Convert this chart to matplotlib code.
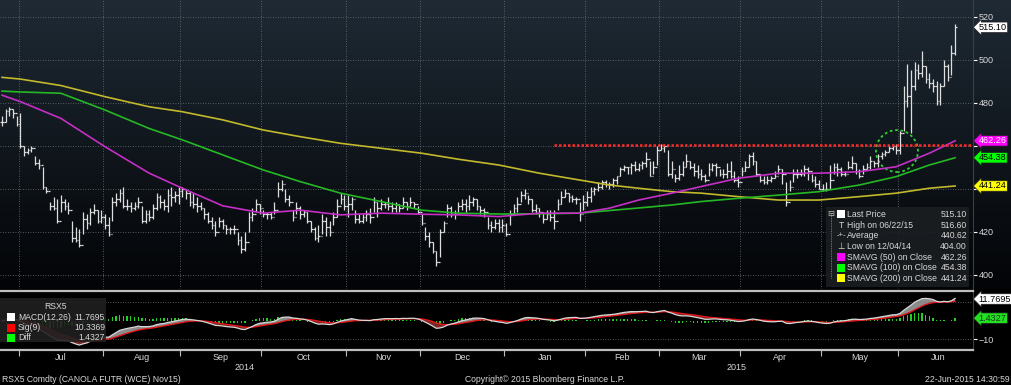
import numpy as np
import pandas as pd
import matplotlib
matplotlib.use('Agg')
import matplotlib.pyplot as plt
import matplotlib.transforms as mtrans
from matplotlib.patches import Ellipse, Rectangle
from matplotlib.lines import Line2D

# daily bars, RSX5 canola, 24-Jun-2014 .. 22-Jun-2015
highs = [474, 477, 478, 477, 474, 475, 460, 459, 460, 455, 454, 450, 441, 434, 436, 435, 437, 435, 434, 425,
         422, 421, 429, 428, 431, 433, 430, 430, 428, 427, 436, 438, 440, 441, 435, 434, 434, 436, 432, 430,
         430, 433, 438, 437, 435, 440, 441, 439, 441, 441, 440, 439, 438, 436, 434, 431, 429, 427, 425, 427,
         426, 423, 422, 423, 420, 418, 420, 429, 431, 435, 433, 430, 429, 429, 434, 443, 444, 440, 437, 430,
         434, 432, 430, 429, 425, 422, 423, 428, 427, 425, 429, 435, 438, 437, 437, 436, 430, 428, 428, 430,
         431, 436, 434, 435, 434, 436, 434, 434, 433, 436, 434, 436, 434, 432, 428, 422, 420, 415, 411, 421,
         425, 433, 432, 430, 434, 435, 435, 437, 436, 435, 432, 431, 427, 425, 426, 426, 426, 424, 430, 433,
         436, 439, 440, 437, 435, 433, 431, 429, 430, 430, 430, 435, 439, 440, 438, 437, 436, 434, 437, 439,
         441, 441, 443, 444, 444, 443, 445, 446, 450, 451, 450, 452, 453, 452, 453, 457, 453, 453, 460, 461,
         461, 458, 453, 447, 451, 453, 456, 453, 452, 451, 449, 447, 452, 452, 452, 449, 449, 452, 453, 448,
         446, 450, 453, 456, 457, 453, 447, 446, 446, 446, 448, 451, 449, 443, 444, 449, 449, 449, 451, 450,
         447, 446, 444, 442, 443, 451, 452, 452, 450, 448, 453, 455, 452, 449, 451, 452, 455, 453, 456, 457,
         458, 460, 461, 461, 467, 488, 498, 495, 499, 498, 504, 497, 494, 491, 490, 489, 500, 498, 507, 516.6]
lows = [469, 471, 474, 473, 469, 459, 455, 456, 457, 451, 449, 440, 438, 430, 430, 424, 429, 430, 428, 415,
        415, 413, 419, 421, 423, 428, 424, 424, 421, 418, 425, 432, 434, 431, 430, 429, 430, 431, 424, 424,
        425, 426, 430, 431, 430, 429, 432, 434, 433, 436, 435, 432, 431, 429, 430, 426, 424, 421, 418, 422,
        421, 419, 419, 419, 414, 410, 411, 420, 425, 429, 428, 427, 426, 426, 428, 436, 439, 434, 432, 425,
        428, 426, 427, 424, 420, 416, 415, 419, 418, 418, 423, 427, 433, 430, 427, 430, 424, 424, 424, 425,
        424, 429, 427, 430, 431, 430, 429, 429, 429, 431, 430, 432, 431, 428, 423, 416, 413, 410, 404, 408,
        420, 427, 427, 426, 429, 430, 429, 430, 432, 430, 428, 427, 421, 420, 421, 420, 420, 418, 423, 428,
        429, 434, 435, 433, 429, 428, 427, 424, 426, 425, 421, 430, 433, 436, 434, 434, 433, 425, 430, 432,
        434, 437, 439, 440, 441, 440, 441, 442, 446, 448, 447, 447, 448, 448, 449, 450, 446, 447, 451, 458,
        457, 446, 445, 443, 444, 446, 450, 449, 446, 445, 444, 443, 446, 448, 446, 446, 445, 445, 445, 443,
        441, 446, 448, 450, 451, 446, 443, 442, 442, 443, 445, 447, 442, 432, 439, 443, 445, 446, 446, 444,
        443, 441, 440, 439, 439, 440, 447, 446, 446, 446, 449, 449, 447, 445, 447, 449, 449, 450, 450, 454,
        455, 457, 458, 456, 456, 467, 478, 466, 486, 491, 492, 489, 487, 485, 479, 479, 488, 490, 493, 502]
closes = [471, 476, 477, 475, 470, 460, 457, 458, 459, 452, 451, 441, 439, 432, 431, 425, 434, 432, 430, 417,
          416, 414, 426, 424, 429, 430, 425, 427, 423, 419, 434, 435, 438, 432, 432, 431, 432, 434, 425, 428,
          427, 431, 436, 434, 432, 437, 436, 437, 439, 440, 438, 434, 433, 432, 431, 428, 425, 423, 420, 425,
          423, 421, 421, 421, 416, 412, 415, 427, 428, 433, 431, 428, 428, 427, 430, 440, 442, 435, 434, 427,
          431, 428, 429, 425, 421, 417, 418, 425, 422, 420, 427, 432, 435, 432, 433, 435, 426, 425, 427, 428,
          427, 434, 431, 433, 433, 432, 431, 433, 431, 434, 432, 434, 433, 429, 424, 418, 415, 411, 406, 420,
          424, 431, 428, 428, 432, 433, 432, 434, 435, 432, 430, 429, 423, 422, 424, 422, 423, 419, 428, 431,
          433, 437, 438, 435, 430, 431, 429, 426, 428, 427, 425, 433, 436, 438, 436, 435, 435, 428, 434, 436,
          439, 440, 441, 443, 442, 442, 444, 446, 449, 450, 450, 451, 449, 451, 452, 454, 446, 450, 458, 459,
          460, 447, 449, 445, 447, 450, 453, 450, 448, 447, 446, 444, 449, 451, 450, 447, 447, 448, 446, 444,
          443, 448, 450, 455, 453, 447, 444, 443, 444, 445, 446, 449, 447, 434, 441, 447, 447, 447, 449, 448,
          444, 442, 440, 440, 440, 444, 450, 449, 447, 447, 450, 452, 448, 446, 449, 450, 453, 452, 455, 456,
          457, 459, 460, 458, 466, 481, 483, 488, 495, 494, 497, 491, 489, 488, 481, 488, 497, 492, 503, 515.1]
dates = pd.bdate_range(end='2015-06-22', periods=len(closes))

# moving averages at these bar numbers
ma_days = [0, 5, 16, 28, 40, 49, 60, 71, 81, 92, 103, 114, 124, 135, 146, 157, 165, 173, 182, 190,
           200, 211, 222, 233, 243, 252, 259]
sma50 = [483.5, 480.5, 472.7, 459.5, 447.2, 440.2, 432.0, 428.6, 430.0, 427.8, 428.6, 428.1, 427.8, 427.0,
         428.6, 428.6, 430.9, 434.7, 437.9, 441.0, 444.8, 447.2, 447.2, 447.9, 450.2, 456.5, 462.26]
sma100 = [485.4, 485.0, 484.4, 476.6, 468.0, 462.7, 455.7, 448.7, 443.3, 437.9, 434.0, 430.0, 428.6, 428.2,
          428.3, 428.6, 429.8, 431.0, 432.4, 434.0, 435.5, 437.0, 438.6, 441.7, 445.6, 451.0, 454.38]
sma200 = [491.8, 491.0, 488.0, 482.8, 478.1, 475.8, 472.0, 467.3, 464.2, 461.1, 458.8, 456.5, 453.7, 451.0,
          447.2, 444.0, 441.7, 440.2, 438.6, 437.9, 436.3, 434.7, 434.7, 436.3, 437.9, 440.2, 441.24]

resist_level = 460.3
resist_from = 150
circle_day, circle_price = 243.2, 457.5

legend_rows = ['Last Price', 'High on 06/22/15', 'Average', 'Low on 12/04/14',
               'SMAVG (50) on Close', 'SMAVG (100) on Close', 'SMAVG (200) on Close']
legend_vals = ['515.10', '516.60', '440.62', '404.00', '462.26', '454.38', '441.24']
macd_rows = ['MACD(12,26)', 'Sig(9)', 'Diff']
macd_vals = ['11.7695', '10.3369', '1.4327']
price_ticks = [400, 420, 440, 460, 480, 500, 520]
price_tick_labels = ['400', '420', '', '', '480', '500', '520']  # 440/460 sit under the tags

W, H = 1012, 385
plt.rcParams['font.family'] = ['Liberation Sans', 'DejaVu Sans']
fig = plt.figure(figsize=(W / 100, H / 100), dpi=100, facecolor='black')


def fx(x):
    return x / W


def fy(y):
    return 1 - y / H


txt = '#d8d8d8'
gridc = '#6c737b'
gls = (0, (1, 2))

# gradient background of the price panel
bg = fig.add_axes([0, fy(289), 1, 289 / H])
bg.axis('off')
g = np.linspace(0, 1, 256).reshape(-1, 1, 1)
top = np.array([0.12, 0.165, 0.205])
bot = np.array([0.01, 0.015, 0.025])
bg.imshow(top + (bot - top) * g, aspect='auto', extent=[0, 1, 0, 1])

x = np.arange(len(closes))
opens = [closes[0]] + closes[:-1]
month_starts = [i for i in range(1, len(dates)) if dates[i].month != dates[i - 1].month]
xmax = (973 - 2) / 3.68

ax = fig.add_axes([0, fy(289), fx(973), 289 / H])
ax.patch.set_alpha(0)
ax.set_xlim(-0.55, xmax)
ax.set_ylim(393.3, 527.8)
ax.set_xticks(np.array(month_starts) - 0.5)
ax.set_yticks(price_ticks)
ax.set_yticklabels(price_tick_labels)
ax.grid(True, color=gridc, lw=0.6, ls=gls)
ax.yaxis.tick_right()
ax.tick_params(axis='x', length=0, labelbottom=False)
ax.tick_params(axis='y', colors='white', labelcolor=txt, labelsize=6.5, length=3, width=0.8, pad=1)
for s in ['top', 'bottom', 'left']:
    ax.spines[s].set_visible(False)
ax.spines['right'].set_color('#3a3f44')

barc = '#dedede'
ax.vlines(x, lows, highs, color=barc, lw=0.9)
ax.hlines(opens, x - 0.45, x, color=barc, lw=0.9)
ax.hlines(closes, x, x + 0.45, color=barc, lw=0.9)

ax.plot(ma_days, sma200, color='#c2b92c', lw=1.2)
ax.plot(ma_days, sma100, color='#25b825', lw=1.2)
ax.plot(ma_days, sma50, color='#c52fc5', lw=1.2)

ax.plot([resist_from, xmax], [resist_level, resist_level], color='#ff2a2a', lw=1.8, ls=(0, (1, 0.8)))
ax.add_patch(Ellipse((circle_day, circle_price), 11.4, 19.5, fill=False, ec='#2fd02f',
                     lw=1.3, ls=(0, (1.5, 1.5))))


def tag(axis, y, s, fc, tc):
    tr = mtrans.blended_transform_factory(axis.transAxes, axis.transData)
    axis.text(1.006, y, s, transform=tr, ha='left', va='center', fontsize=6.6, color=tc,
              bbox=dict(boxstyle='larrow,pad=0.08', fc=fc, ec='#202020', lw=0.5),
              zorder=10, clip_on=False)


tag(ax, closes[-1], '515.10', 'white', 'black')
tag(ax, sma50[-1], '462.26', '#ff00ff', 'white')
tag(ax, sma100[-1], '454.38', '#00ff00', 'black')
tag(ax, sma200[-1], '441.24', '#ffff00', 'black')

# legend box of the price panel
fig.patches.append(Rectangle((fx(826), fy(287)), fx(143), 80 / H, transform=fig.transFigure,
                             fc='#1b1e21', ec='none', alpha=0.9, zorder=5))
rows_y = [214.3, 225, 235.7, 246.3, 257, 267.7, 278.3]
fig.lines.append(Line2D([fx(831), fx(831)], [fy(214), fy(278)], transform=fig.transFigure,
                        color='#909090', lw=0.6, ls=(0, (1, 1)), zorder=6))
sq = [('white', 0), ('#ff00ff', 4), ('#00ff00', 5), ('#ffff00', 6)]
for c, r in sq:
    fig.patches.append(Rectangle((fx(837), fy(rows_y[r] + 4)), fx(8), 8 / H, transform=fig.transFigure,
                                 fc=c, ec='none', zorder=7))
fig.text(fx(831), fy(rows_y[0]), '⊟', color='#c0c0c0', fontsize=6, ha='center', va='center', zorder=7)
fig.text(fx(841), fy(rows_y[1]), 'T', color=txt, fontsize=6.2, ha='center', va='center', zorder=7)
fig.text(fx(841), fy(rows_y[2]), '-+-', color=txt, fontsize=5.5, ha='center', va='center', zorder=7)
fig.text(fx(841), fy(rows_y[3]), '⊥', color=txt, fontsize=6.2, ha='center', va='center', zorder=7)
for yy, lab, val in zip(rows_y, legend_rows, legend_vals):
    fig.text(fx(847), fy(yy), lab, color=txt, fontsize=6.2, va='center', zorder=7)
    fig.text(fx(967), fy(yy), val, color=txt, fontsize=6.2, va='center', ha='right', zorder=7)

# MACD panel
cs = pd.Series(closes, dtype=float)
macd = cs.ewm(span=12, adjust=False).mean() - cs.ewm(span=26, adjust=False).mean()
sig = macd.ewm(span=9, adjust=False).mean()
diff = macd - sig

ax2 = fig.add_axes([0, fy(350), fx(973), 59 / H], facecolor='black')
ax2.set_xlim(-0.55, xmax)
ax2.set_ylim(-15.8, 16.1)
for lvl in (-10, 10):
    ax2.axhline(lvl, color=gridc, lw=0.6, ls=gls)
ax2.bar(x, diff, width=0.35, color='#22d022')
ax2.fill_between(x, macd, sig, where=macd >= sig, interpolate=True, color='#8c8c8c', lw=0)
ax2.fill_between(x, macd, sig, where=macd < sig, interpolate=True, color='#7a2626', lw=0)
ax2.plot(x, sig, color='#e01818', lw=1)
ax2.plot(x, macd, color='#d8d8d8', lw=0.9)
ax2.yaxis.tick_right()
ax2.set_yticks([-10])
ax2.tick_params(axis='y', colors='white', labelcolor=txt, labelsize=6.5, length=3, width=0.8, pad=1)
for s in ['top', 'bottom']:
    ax2.spines[s].set_color('#bdbdbd')
    ax2.spines[s].set_linewidth(1.6)
ax2.spines['left'].set_visible(False)
ax2.spines['right'].set_color('#3a3f44')

# month ticks and labels
ends = month_starts[1:] + [month_starts[-1] + len(pd.bdate_range('2015-06-01', '2015-06-30'))]
centers = [(a + b) / 2 - 0.5 for a, b in zip(month_starts, ends)]
ax2.set_xticks(np.array(month_starts) - 0.5)
ax2.set_xticklabels([])
ax2.set_xticks(centers, minor=True)
ax2.set_xticklabels([dates[i].strftime('%b') for i in month_starts], minor=True)
ax2.tick_params(axis='x', which='major', colors='#bdbdbd', length=4, width=0.8)
ax2.tick_params(axis='x', which='minor', length=0, labelcolor=txt, labelsize=6.5, pad=2.5)

tag(ax2, 11.7695, '11.7695', 'white', 'black')
tag(ax2, 1.4327, '1.4327', '#22e022', '#1a3a1a')

fig.patches.append(Rectangle((0, fy(342)), fx(106), 44 / H, transform=fig.transFigure,
                             fc='#202020', ec='none', alpha=0.9, zorder=5))
fig.text(fx(56), fy(306.5), 'RSX5', color=txt, fontsize=6.2, ha='center', va='center', zorder=7)
for yy, lab, val, c in zip([317, 327.5, 338], macd_rows, macd_vals, ['white', '#ff0000', '#00ff00']):
    fig.patches.append(Rectangle((fx(7), fy(yy + 4)), fx(8), 8 / H, transform=fig.transFigure,
                                 fc=c, ec='none', zorder=7))
    fig.text(fx(18), fy(yy), lab, color=txt, fontsize=6.2, va='center', zorder=7)
    fig.text(fx(105), fy(yy), val, color=txt, fontsize=6.2, va='center', ha='right', zorder=7)

fig.text(fx(245), fy(368), '2014', color=txt, fontsize=6.5, ha='center', va='center')
fig.text(fx(737), fy(368), '2015', color=txt, fontsize=6.5, ha='center', va='center')
fig.text(fx(2), fy(380), 'RSX5 Comdty (CANOLA FUTR (WCE) Nov15)', color=txt, fontsize=6.2, va='center')
fig.text(fx(545), fy(380), 'Copyright© 2015 Bloomberg Finance L.P.', color=txt, fontsize=6.2,
         va='center', ha='center')
fig.text(fx(1010), fy(380), '22-Jun-2015 14:30:59', color=txt, fontsize=6.2, va='center', ha='right')

fig.savefig('out.png', dpi=100, facecolor='black')
